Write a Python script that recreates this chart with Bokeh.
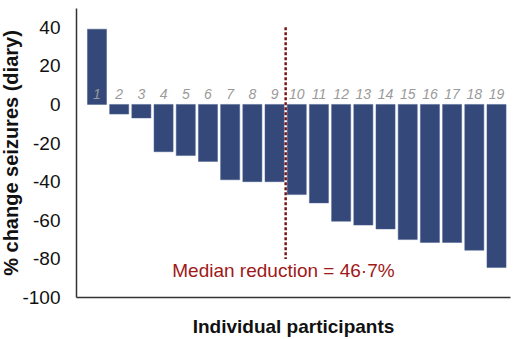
from bokeh.plotting import figure
from bokeh.models import ColumnDataSource, FixedTicker, Range1d, Label, Title
from bokeh.embed import file_html
from bokeh.resources import INLINE

participants = list(range(1, 20))
pct_change = [39, -5, -7, -24.5, -26.5, -29.5, -39, -40, -40, -46.7,
              -51, -60.5, -62.5, -64.5, -70, -71.5, -71.5, -75.5, -84.5]
participant_labels = [str(i) for i in participants]
y_ticks = [-100, -80, -60, -40, -20, 0, 20, 40]
y_tick_labels = ["-100", "-80", "-60", "-40", "-20", "0", "20", "40"]
median_reduction = 46.7
median_pos = 9.5

FONT = "Liberation Sans"

p = figure(width=520, height=339, output_backend="svg", toolbar_location=None,
           x_range=Range1d(0.077, 19.63), y_range=Range1d(-100, 49.7),
           min_border_left=76, min_border_right=10, min_border_top=8, min_border_bottom=42)
p.outline_line_color = None
p.grid.visible = False
p.background_fill_color = "white"

src = ColumnDataSource(dict(x=participants, y=pct_change, lab=participant_labels,
                            ly=[5.5] * len(participants)))
p.vbar(x="x", top="y", bottom=0, width=0.86, source=src,
       fill_color="#34497A", line_color="#4a5f8f", line_width=0.5)

p.text(x="x", y="ly", text="lab", source=src, text_align="center", text_baseline="middle",
       text_font_size="14px", text_font_style="italic", text_color="#9a9a9a",
       text_font={"value": FONT})

p.segment(x0=[median_pos], y0=[40], x1=[median_pos], y1=[-80],
          line_color="#7a1515", line_width=2.5, line_dash="3 2")

p.add_layout(Label(x=9.4, y=-86, text="Median reduction = %s%%" % str(median_reduction).replace(".", "·"),
                   text_align="center", text_baseline="middle", text_font_size="19px",
                   text_color="#a01818", text_font=FONT))

p.add_layout(Title(text="% change seizures (diary)", align="center", text_font_size="20px",
                   text_font_style="bold", text_color="#111111", text_font=FONT,
                   standoff=-5, offset=0), "left")

ya = p.yaxis[0]
ya.ticker = FixedTicker(ticks=y_ticks)
ya.major_label_overrides = {t: s for t, s in zip(y_ticks, y_tick_labels)}
ya.major_tick_line_color = None
ya.minor_tick_line_color = None
ya.major_label_standoff = 10
ya.major_label_text_font_size = "19px"
ya.major_label_text_font = FONT
ya.major_label_text_color = "#111111"
ya.axis_line_color = "#333333"
ya.axis_line_width = 1.5

xa = p.xaxis[0]
xa.ticker = FixedTicker(ticks=[])
xa.major_tick_line_color = None
xa.minor_tick_line_color = None
xa.major_label_text_font_size = "0px"
xa.axis_line_color = "#333333"
xa.axis_line_width = 1.5
xa.axis_label = "Individual participants"
xa.axis_label_text_font = FONT
xa.axis_label_text_font_style = "bold"
xa.axis_label_text_font_size = "19px"
xa.axis_label_text_color = "#111111"
xa.axis_label_standoff = 18

open("out.html", "w").write(file_html(p, INLINE))
